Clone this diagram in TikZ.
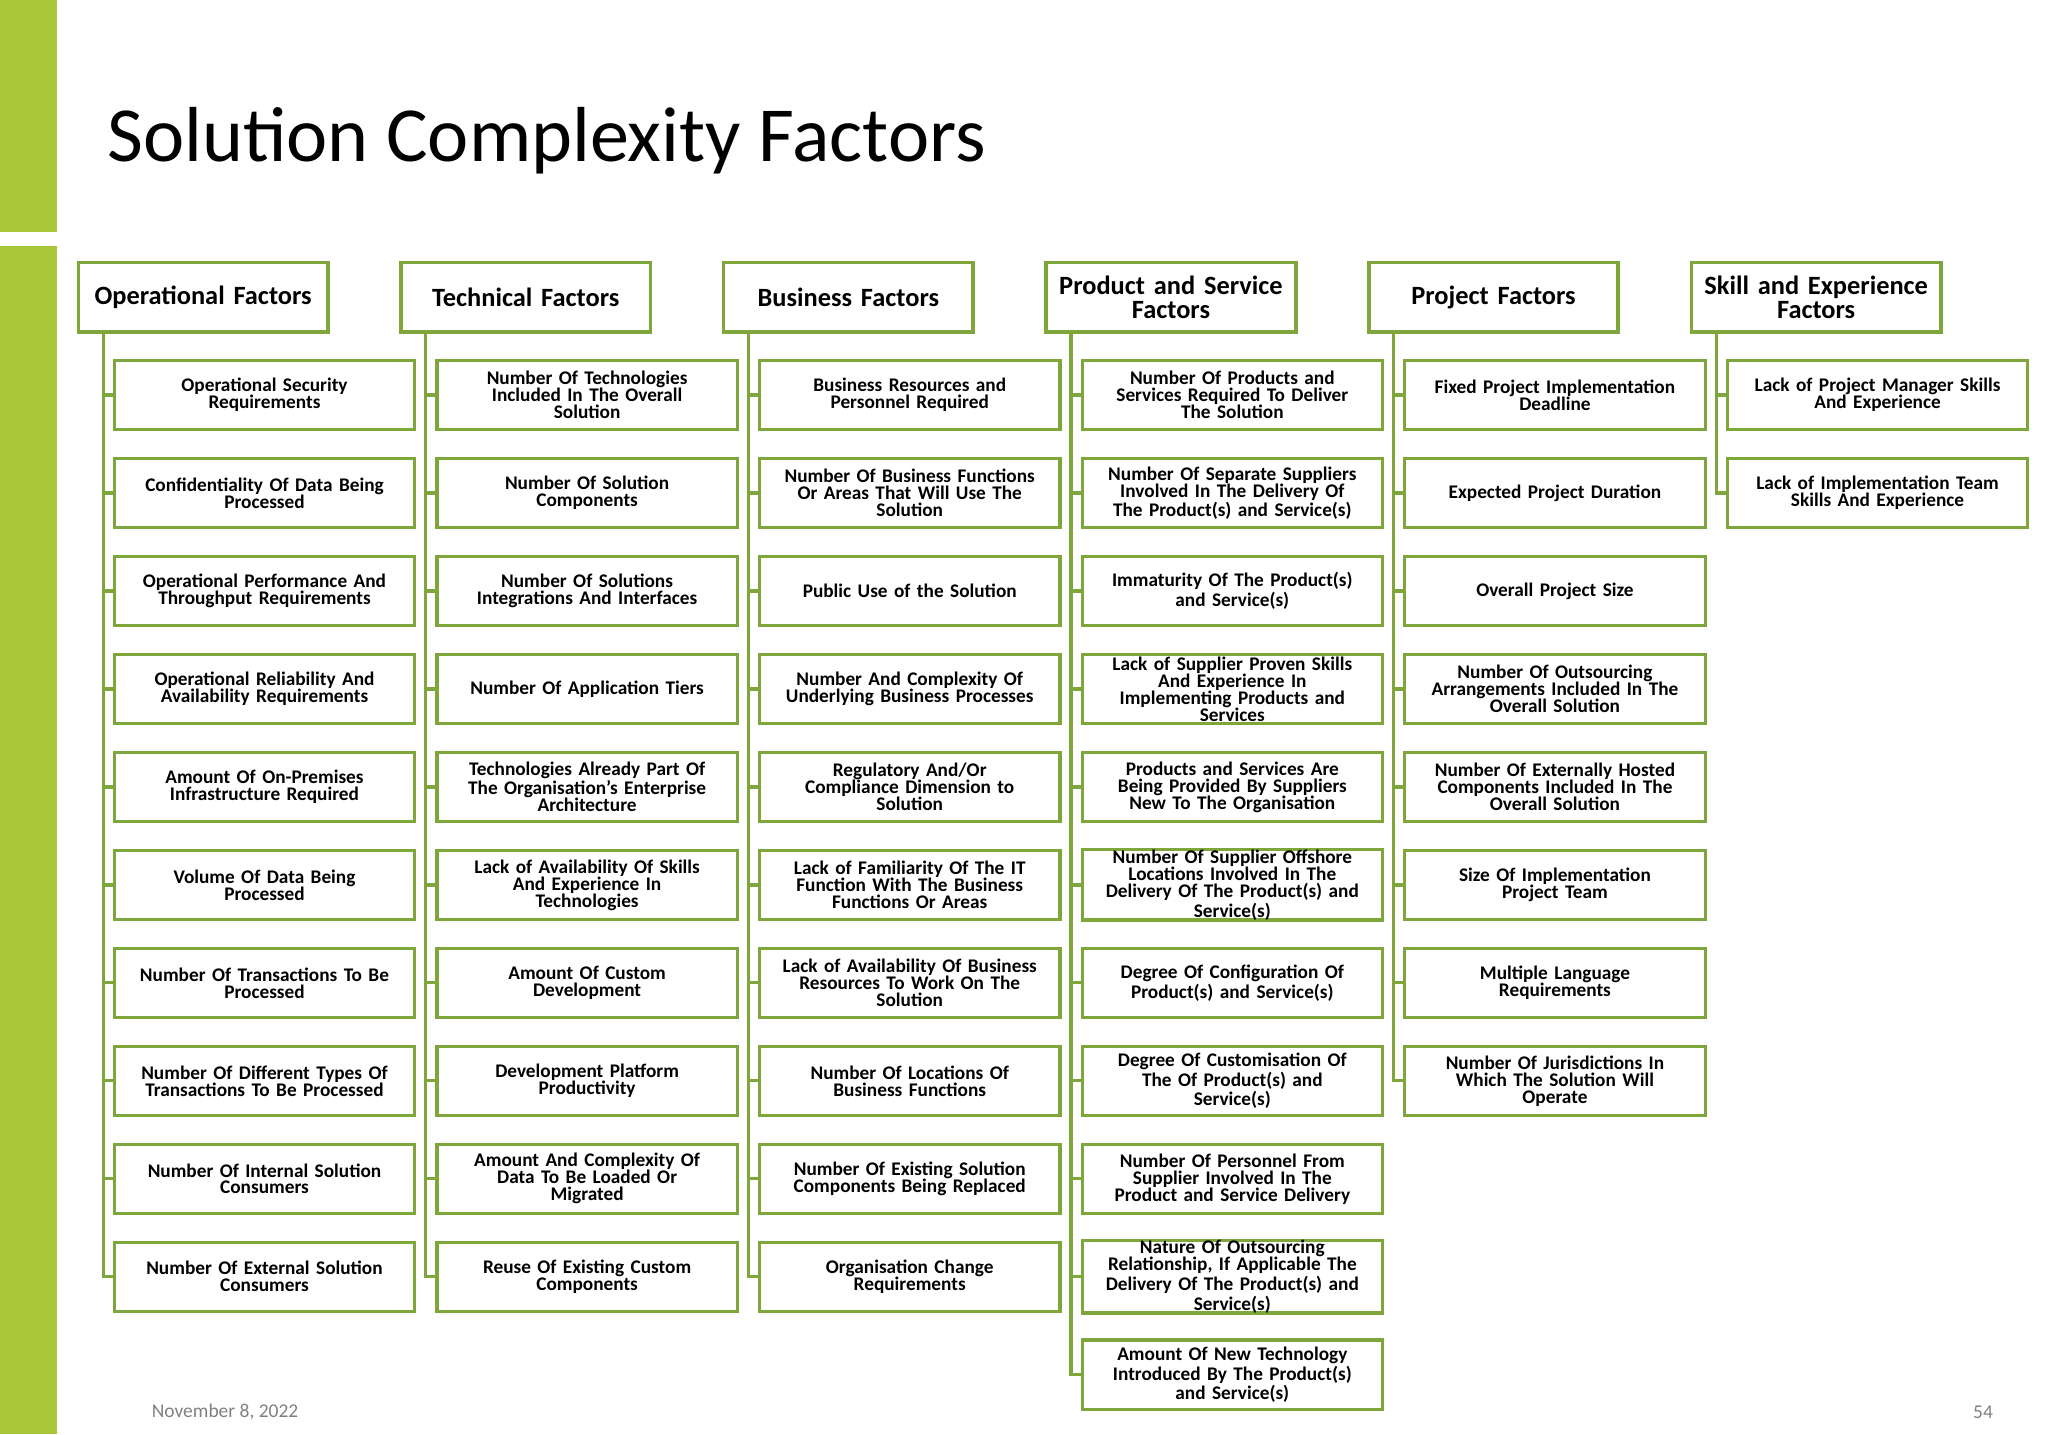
\documentclass[tikz,border=0pt]{standalone}
\usepackage{fontspec}
\setmainfont{Carlito}
\definecolor{barg}{HTML}{A8C83A}
\definecolor{bord}{HTML}{7EA63A}
\begin{document}
\begin{tikzpicture}[x=0.02cm,y=-0.02cm,
 hdr/.style={draw=bord,line width=1.6pt,minimum width=3.82cm,minimum height=1.06cm,inner sep=1pt,align=center,font=\fontsize{11.5}{10.5}\selectfont\bfseries,text width=3.75cm},
 cb/.style={draw=bord,line width=1.4pt,minimum width=4.5cm,minimum height=1.06cm,inner sep=0pt,align=center,font=\fontsize{8.4}{7.4}\selectfont\bfseries,text width=4.6cm},
 conn/.style={draw=bord,line width=1.4pt}]
\useasboundingbox (0,0) rectangle (1568,1098);
\fill[barg] (0,0) rectangle (44,178);
\fill[barg] (0,188) rectangle (44,1098);
\node[anchor=west,font=\fontsize{34}{36}\selectfont] (title) at (76,108) {Solution Complexity Factors};
\node[anchor=west,text=gray,font=\fontsize{8.5}{9}\selectfont] (date) at (110,1081) {November 8, 2022};
\node[anchor=east,text=gray,font=\fontsize{8.5}{9}\selectfont] (pg) at (1532,1081) {54};
\newcommand{\hd}[2]{\node[hdr] (h#1) at ({60+247*#1+95.5},227.5) {#2};
 \coordinate (v#1) at ({79+247*#1},254);}
\newcommand{\bx}[3]{\node[cb] (b#1-#2) at ({60+247*#1+142.5},{276+75*#2+26.5}) {#3};
 \draw[conn] (v#1) |- (b#1-#2.west);}
\hd{0}{Operational Factors}
\hd{1}{Technical Factors}
\hd{2}{Business Factors}
\hd{3}{Product and Service\\Factors}
\hd{4}{Project Factors}
\hd{5}{Skill and Experience\\Factors}
\bx{0}{0}{Operational Security\\Requirements}
\bx{0}{1}{Confidentiality Of Data Being\\Processed}
\bx{0}{2}{Operational Performance And\\Throughput Requirements}
\bx{0}{3}{Operational Reliability And\\Availability Requirements}
\bx{0}{4}{Amount Of On-Premises\\Infrastructure Required}
\bx{0}{5}{Volume Of Data Being\\Processed}
\bx{0}{6}{Number Of Transactions To Be\\Processed}
\bx{0}{7}{Number Of Different Types Of\\Transactions To Be Processed}
\bx{0}{8}{Number Of Internal Solution\\Consumers}
\bx{0}{9}{Number Of External Solution\\Consumers}
\bx{1}{0}{Number Of Technologies\\Included In The Overall\\Solution}
\bx{1}{1}{Number Of Solution\\Components}
\bx{1}{2}{Number Of Solutions\\Integrations And Interfaces}
\bx{1}{3}{Number Of Application Tiers}
\bx{1}{4}{Technologies Already Part Of\\The Organisation’s Enterprise\\Architecture}
\bx{1}{5}{Lack of Availability Of Skills\\And Experience In\\Technologies}
\bx{1}{6}{Amount Of Custom\\Development}
\bx{1}{7}{Development Platform\\Productivity}
\bx{1}{8}{Amount And Complexity Of\\Data To Be Loaded Or\\Migrated}
\bx{1}{9}{Reuse Of Existing Custom\\Components}
\bx{2}{0}{Business Resources and\\Personnel Required}
\bx{2}{1}{Number Of Business Functions\\Or Areas That Will Use The\\Solution}
\bx{2}{2}{Public Use of the Solution}
\bx{2}{3}{Number And Complexity Of\\Underlying Business Processes}
\bx{2}{4}{Regulatory And/Or\\Compliance Dimension to\\Solution}
\bx{2}{5}{Lack of Familiarity Of The IT\\Function With The Business\\Functions Or Areas}
\bx{2}{6}{Lack of Availability Of Business\\Resources To Work On The\\Solution}
\bx{2}{7}{Number Of Locations Of\\Business Functions}
\bx{2}{8}{Number Of Existing Solution\\Components Being Replaced}
\bx{2}{9}{Organisation Change\\Requirements}
\bx{3}{0}{Number Of Products and\\Services Required To Deliver\\The Solution}
\bx{3}{1}{Number Of Separate Suppliers\\Involved In The Delivery Of\\The Product(s) and Service(s)}
\bx{3}{2}{Immaturity Of The Product(s)\\and Service(s)}
\bx{3}{3}{Lack of Supplier Proven Skills\\And Experience In\\Implementing Products and\\Services}
\bx{3}{4}{Products and Services Are\\Being Provided By Suppliers\\New To The Organisation}
\bx{3}{5}{Number Of Supplier Offshore\\Locations Involved In The\\Delivery Of The Product(s) and\\Service(s)}
\bx{3}{6}{Degree Of Configuration Of\\Product(s) and Service(s)}
\bx{3}{7}{Degree Of Customisation Of\\The Of Product(s) and\\Service(s)}
\bx{3}{8}{Number Of Personnel From\\Supplier Involved In The\\Product and Service Delivery}
\bx{3}{9}{Nature Of Outsourcing\\Relationship, If Applicable The\\Delivery Of The Product(s) and\\Service(s)}
\bx{3}{10}{Amount Of New Technology\\Introduced By The  Product(s)\\and Service(s)}
\bx{4}{0}{Fixed Project Implementation\\Deadline}
\bx{4}{1}{Expected Project Duration}
\bx{4}{2}{Overall Project Size}
\bx{4}{3}{Number Of Outsourcing\\Arrangements Included In The\\Overall Solution}
\bx{4}{4}{Number Of Externally Hosted\\Components  Included In The\\Overall Solution}
\bx{4}{5}{Size Of Implementation\\Project Team}
\bx{4}{6}{Multiple Language\\Requirements}
\bx{4}{7}{Number Of Jurisdictions In\\Which The Solution Will\\Operate}
\bx{5}{0}{Lack of Project Manager Skills\\And Experience}
\bx{5}{1}{Lack of Implementation Team\\Skills And Experience}
\end{tikzpicture}
\end{document}
